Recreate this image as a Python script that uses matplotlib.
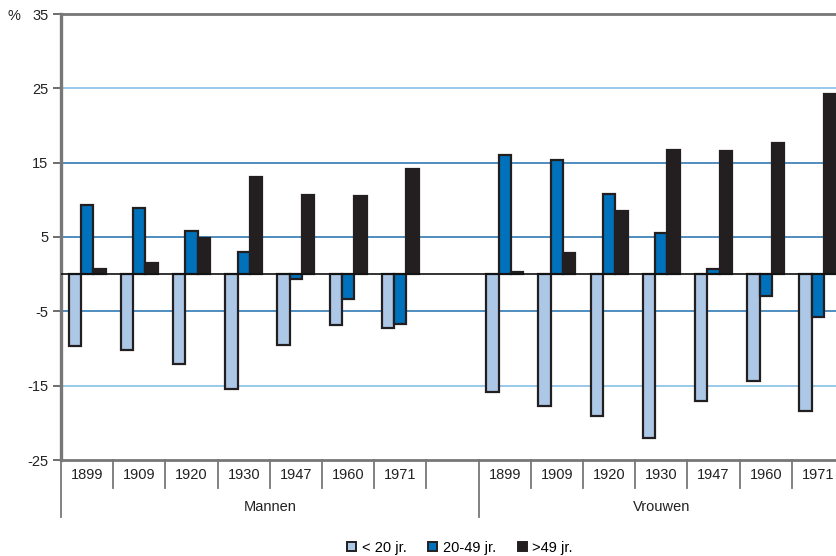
import matplotlib
matplotlib.use("Agg")
import matplotlib.pyplot as plt
from matplotlib.patches import Patch
from matplotlib.transforms import blended_transform_factory

plt.rcParams['font.family'] = ['Liberation Sans', 'DejaVu Sans']

years = ["1899", "1909", "1920", "1930", "1947", "1960", "1971"]
groups = ["Mannen", "Vrouwen"]
series_labels = ["< 20 jr.", "20-49 jr.", ">49 jr."]

mannen_lt20 = [-9.6, -10.2, -12.1, -15.5, -9.5, -6.8, -7.2]
mannen_20_49 = [9.3, 8.9, 5.75, 3.0, -0.7, -3.4, -6.7]
mannen_gt49 = [0.7, 1.5, 4.8, 13.1, 10.6, 10.5, 14.2]

vrouwen_lt20 = [-15.8, -17.7, -19.1, -22.0, -17.0, -14.4, -18.4]
vrouwen_20_49 = [16.0, 15.4, 10.8, 5.5, 0.7, -3.0, -5.7]
vrouwen_gt49 = [0.3, 2.85, 8.5, 16.7, 16.6, 17.7, 24.3]

yticks = [35, 25, 15, 5, -5, -15, -25]

colors = ["#adc8e6", "#0072bc", "#231f20"]
edge = "#231f20"

W, H = 836, 556
fig = plt.figure(figsize=(W / 100, H / 100), dpi=100)
# plot area runs past the right border of the figure
ax = fig.add_axes([61 / W, 1 - 460 / H, (844 - 61) / W, (460 - 14) / H])

n = len(years)
slot_centers = {
    "Mannen": [i + 0.5 for i in range(n)],
    "Vrouwen": [n + 1 + i + 0.5 for i in range(n)],
}
data = {
    "Mannen": [mannen_lt20, mannen_20_49, mannen_gt49],
    "Vrouwen": [vrouwen_lt20, vrouwen_20_49, vrouwen_gt49],
}
bw = 0.235
offsets = [-bw, 0, bw]

# grid lines
for yv, c in [(25, "#7db9e3"), (15, "#1f6fad"), (5, "#1f6fad"),
              (-5, "#1f6fad"), (-15, "#7db9e3")]:
    ax.axhline(yv, color=c, lw=1.1, zorder=1)

for g in groups:
    for k in range(3):
        xs = [x + offsets[k] for x in slot_centers[g]]
        ec = colors[2] if k == 2 else edge
        ax.bar(xs, data[g][k], width=bw, color=colors[k], edgecolor=ec,
               linewidth=1.6, zorder=3)

ax.axhline(0, color="#111111", lw=1.2, zorder=4)

ax.set_xlim(0, 2 * n + 1)
ax.set_ylim(-25, 35)
ax.set_yticks(yticks)
ax.set_yticklabels([str(v) for v in yticks], fontsize=10.5, color="#222222")
ax.tick_params(axis="y", length=6, width=1.2, color="#555555", pad=3)
ax.set_xticks([])

for s in ["left", "bottom", "top"]:
    ax.spines[s].set_color("#777777")
ax.spines["left"].set_linewidth(2.4)
ax.spines["bottom"].set_linewidth(2.0)
ax.spines["top"].set_linewidth(2.0)
ax.spines["right"].set_visible(False)

fig.text(8 / W, 1 - 16 / H, "%", fontsize=10.5, va="center", ha="left",
         color="#222222")

# category axis below the plot
tr = blended_transform_factory(ax.transData, fig.transFigure)
y_top = 1 - 460 / H
y_short = 1 - 488 / H
y_long = 1 - 517 / H
for xv in range(0, 2 * n + 2):
    y_end = y_long if xv in (0, n + 1) else y_short
    ax.plot([xv, xv], [y_top, y_end], transform=tr, color="#777777",
            lw=1.3, clip_on=False)
for g in groups:
    for x, yr in zip(slot_centers[g], years):
        fig.text(x, 1 - 475 / H, yr, transform=tr, ha="center", va="center",
                 fontsize=10.5, color="#222222")
fig.text(n / 2 + 0.5, 1 - 507 / H, "Mannen", transform=tr, ha="center",
         va="center", fontsize=10.5, color="#222222")
fig.text(n + 1 + n / 2, 1 - 507 / H, "Vrouwen", transform=tr, ha="center",
         va="center", fontsize=10.5, color="#222222")

handles = [Patch(facecolor=colors[k], edgecolor=edge, linewidth=1.4)
           for k in range(3)]
fig.legend(handles, series_labels, loc="center", ncol=3,
           bbox_to_anchor=(460 / W, 1 - 548 / H), frameon=False,
           fontsize=10.5, handlelength=0.6, handleheight=0.6,
           handletextpad=0.4, columnspacing=1.5)

fig.savefig("out.png", dpi=100)
